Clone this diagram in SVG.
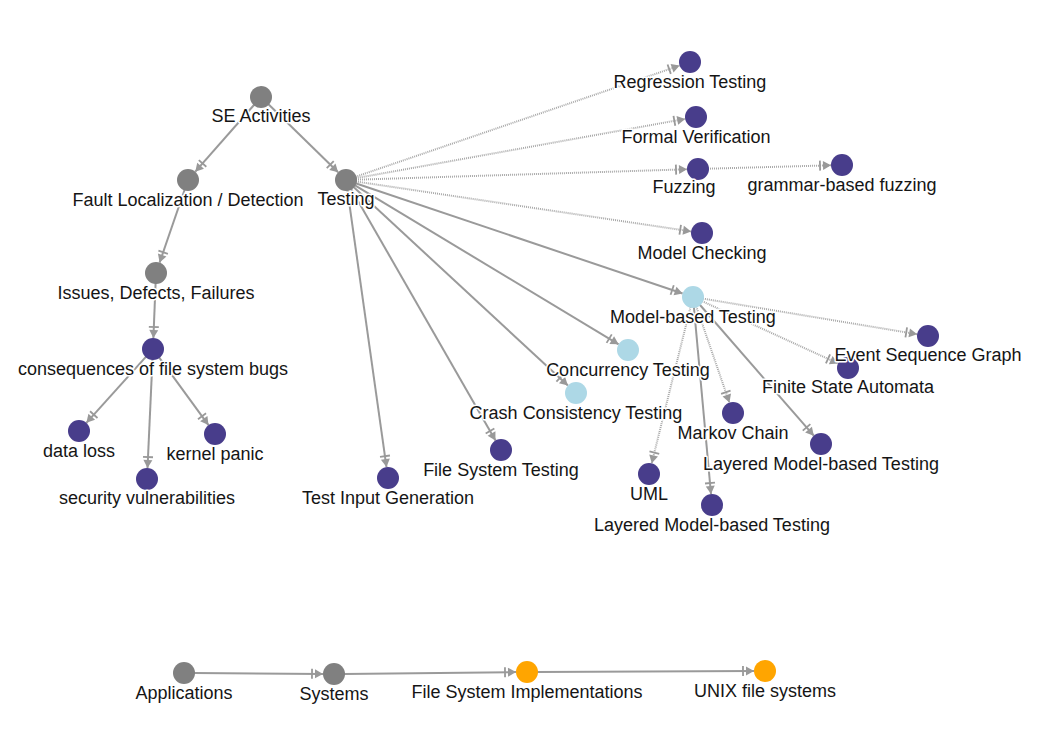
<svg xmlns="http://www.w3.org/2000/svg" width="1057" height="733" viewBox="0 0 1057 733">
<style>
.e{stroke:#9a9a9a;stroke-width:2;fill:none;marker-end:url(#ar)}
.d{stroke:#a8a8a8;stroke-width:2;fill:none;stroke-dasharray:1 1;marker-end:url(#ar)}
.g{fill:#808080}
.p{fill:#483D8B}
.b{fill:#ADD8E6}
.o{fill:#FFA500}
text{font-family:"Liberation Sans",Arial,sans-serif;font-size:18px;fill:#151515;text-anchor:middle;stroke:#fff;stroke-width:3;paint-order:stroke;stroke-linejoin:round}
</style>
<defs>
<marker id="ar" markerUnits="userSpaceOnUse" markerWidth="16" markerHeight="14" refX="14" refY="7" orient="auto">
<path d="M6,2.5 L14,7 L6,11.5 z" fill="#999"/>
<path d="M3,2 L3,12" stroke="#999" stroke-width="1.8"/>
</marker>
</defs>
<rect width="1057" height="733" fill="#fff"/>
<g id="edges">
<line class="e" x1="254.4" y1="104.5" x2="195.3" y2="171.7"/>
<line class="e" x1="268.2" y1="104" x2="338.1" y2="172.3"/>
<line class="e" x1="184.7" y1="189.5" x2="159.6" y2="262.6"/>
<line class="e" x1="155.6" y1="283" x2="153.4" y2="338"/>
<line class="e" x1="146.3" y1="356.4" x2="86.4" y2="422.8"/>
<line class="e" x1="152.5" y1="359" x2="147.5" y2="468"/>
<line class="e" x1="158.9" y1="357.1" x2="208.5" y2="425.1"/>
<line class="d" x1="355.5" y1="176.8" x2="679.6" y2="65.6"/>
<line class="d" x1="355.8" y1="178.2" x2="685.2" y2="118.9"/>
<line class="d" x1="356" y1="179.7" x2="687" y2="169.3"/>
<line class="d" x1="708" y1="168.7" x2="831" y2="165.3"/>
<line class="d" x1="355.9" y1="181.5" x2="691.1" y2="231.4"/>
<line class="e" x1="355.5" y1="183.2" x2="682.6" y2="293.5"/>
<line class="e" x1="354.6" y1="185.2" x2="618.6" y2="344.3"/>
<line class="e" x1="353.3" y1="186.8" x2="567.9" y2="385.5"/>
<line class="e" x1="351" y1="188.7" x2="495.5" y2="440.5"/>
<line class="e" x1="347.4" y1="189.9" x2="386.5" y2="467.1"/>
<line class="d" x1="702.9" y1="298.6" x2="917.1" y2="334.2"/>
<line class="d" x1="702.1" y1="301.2" x2="838" y2="363.4"/>
<line class="d" x1="696.3" y1="306.5" x2="729.4" y2="402.6"/>
<line class="e" x1="699.6" y1="304.5" x2="813.8" y2="435.7"/>
<line class="d" x1="690.6" y1="306.7" x2="651.7" y2="463.3"/>
<line class="e" x1="693.9" y1="307" x2="711" y2="494"/>
<line class="e" x1="194" y1="673.1" x2="323" y2="673.9"/>
<line class="e" x1="344" y1="673.9" x2="516" y2="672.1"/>
<line class="e" x1="537" y1="672" x2="754" y2="671"/>
</g>
<g id="n-se"><circle class="g" cx="261" cy="97" r="11"/><text x="261" y="122">SE Activities</text></g>
<g id="n-fault"><circle class="g" cx="188" cy="180" r="11"/><text x="188" y="206">Fault Localization / Detection</text></g>
<g id="n-testing"><circle class="g" cx="346" cy="180" r="11"/><text x="346" y="205">Testing</text></g>
<g id="n-issues"><circle class="g" cx="156" cy="273" r="11"/><text x="156" y="299">Issues, Defects, Failures</text></g>
<g id="n-cons"><circle class="p" cx="153" cy="349" r="11"/><text x="153" y="375">consequences of file system bugs</text></g>
<g id="n-dataloss"><circle class="p" cx="79" cy="431" r="11"/><text x="79" y="457">data loss</text></g>
<g id="n-security"><circle class="p" cx="147" cy="479" r="11"/><text x="147" y="504">security vulnerabilities</text></g>
<g id="n-kernel"><circle class="p" cx="215" cy="434" r="11"/><text x="215" y="460">kernel panic</text></g>
<g id="n-regression"><circle class="p" cx="690" cy="62" r="11"/><text x="690" y="88">Regression Testing</text></g>
<g id="n-formal"><circle class="p" cx="696" cy="117" r="11"/><text x="696" y="143">Formal Verification</text></g>
<g id="n-fuzzing"><circle class="p" cx="698" cy="169" r="11"/><text x="684" y="193">Fuzzing</text></g>
<g id="n-grammar"><circle class="p" cx="842" cy="165" r="11"/><text x="842" y="191">grammar-based fuzzing</text></g>
<g id="n-modelcheck"><circle class="p" cx="702" cy="233" r="11"/><text x="702" y="259">Model Checking</text></g>
<g id="n-fsa"><circle class="p" cx="848" cy="368" r="11"/><text x="848" y="393">Finite State Automata</text></g>
<g id="n-esg"><circle class="p" cx="928" cy="336" r="11"/><text x="928" y="361">Event Sequence Graph</text></g>
<g id="n-mbt"><circle class="b" cx="693" cy="297" r="11"/><text x="693" y="323">Model-based Testing</text></g>
<g id="n-concurrency"><circle class="b" cx="628" cy="350" r="11"/><text x="628" y="376">Concurrency Testing</text></g>
<g id="n-crash"><circle class="b" cx="576" cy="393" r="11"/><text x="576" y="419">Crash Consistency Testing</text></g>
<g id="n-markov"><circle class="p" cx="733" cy="413" r="11"/><text x="733" y="439">Markov Chain</text></g>
<g id="n-layered1"><circle class="p" cx="821" cy="444" r="11"/><text x="821" y="470">Layered Model-based Testing</text></g>
<g id="n-uml"><circle class="p" cx="649" cy="474" r="11"/><text x="649" y="500">UML</text></g>
<g id="n-layered2"><circle class="p" cx="712" cy="505" r="11"/><text x="712" y="531">Layered Model-based Testing</text></g>
<g id="n-fst"><circle class="p" cx="501" cy="450" r="11"/><text x="501" y="476">File System Testing</text></g>
<g id="n-tig"><circle class="p" cx="388" cy="478" r="11"/><text x="388" y="504">Test Input Generation</text></g>
<g id="n-apps"><circle class="g" cx="184" cy="673" r="11"/><text x="184" y="699">Applications</text></g>
<g id="n-systems"><circle class="g" cx="334" cy="674" r="11"/><text x="334" y="700">Systems</text></g>
<g id="n-fsi"><circle class="o" cx="527" cy="672" r="11"/><text x="527" y="698">File System Implementations</text></g>
<g id="n-unix"><circle class="o" cx="765" cy="671" r="11"/><text x="765" y="697">UNIX file systems</text></g>
</svg>
